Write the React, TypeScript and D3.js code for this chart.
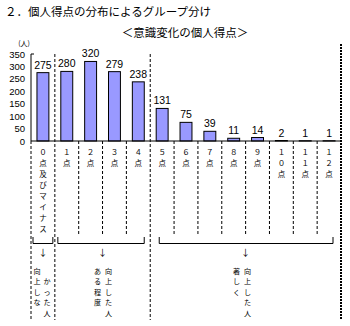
import React from 'react'
import * as d3 from 'd3'

const categories = [
  '０点及びマイナス', '１点', '２点', '３点', '４点', '５点', '６点',
  '７点', '８点', '９点', '１０点', '１１点', '１２点',
]
const counts = [275, 280, 320, 279, 238, 131, 75, 39, 11, 14, 2, 1, 1]
const yTicks = [0, 50, 100, 150, 200, 250, 300, 350]

const groupFirst = [0, 1, 5]
const groupLast = [0, 4, 12]
const groupTexts = [
  ['向上しな', 'かった人'],
  ['ある程度', '向上した人'],
  ['著しく', '向上した人'],
]

const title = '２．個人得点の分布によるグループ分け'
const subtitle = '＜意識変化の個人得点＞'
const unit = '(人)'

// layout tweaks
const bracketInset = [[2, 2], [3, 6], [9, 8]]
const colDx = [[-6, 4], [-5, 6], [-9, 2]]
const colDy = [[0, 1], [0, 0], [0, 0]]

const JP = '"Noto Sans CJK JP", "Noto Sans", sans-serif'
const NUM = '"Liberation Sans", Arial, sans-serif'

// stacked (vertical) text, one glyph per text element
function Stack({ x, y, text, step, size }: { x: number; y: number; text: string; step: number; size: number }) {
  return (
    <g>
      {Array.from(text).map((ch, j) => (
        <text key={j} x={x} y={y + j * step} fontFamily={JP} fontSize={size}
          textAnchor="middle" dominantBaseline="central">{ch}</text>
      ))}
    </g>
  )
}

export default function App() {
  const W = 350
  const H = 326
  const left = 31
  const right = 341
  const top = 54
  const base = 141
  const bottom = 320
  const labelEnd = 236

  const x = d3.scaleBand<number>()
    .domain(d3.range(categories.length))
    .range([left, right])
    .paddingInner(0.5)
    .paddingOuter(0.25)
  const step = x.step()
  const bw = x.bandwidth()
  const cx = (i: number) => (x(i) as number) + bw / 2
  const edge = (k: number) => left + k * step

  const y = d3.scaleLinear().domain([0, 350]).range([base, top])

  const sepIdx = groupFirst.slice(1)
  const innerEdges = d3.range(1, categories.length).filter(k => !sepIdx.includes(k))

  return (
    <svg width={W} height={H} style={{ position: 'absolute', left: 0, top: 0, background: '#fff' }}>
      <text x={5} y={16} fontFamily={JP} fontSize={11.5} fill="#000">{title}</text>
      <text x={185} y={37} fontFamily={JP} fontSize={11.5} textAnchor="middle" fill="#000">{subtitle}</text>

      <text x={24} y={46} fontFamily={JP} fontSize={7} textAnchor="middle">{unit}</text>
      {yTicks.map(t => (
        <text key={t} x={25} y={y(t) + 3.5} fontFamily={NUM} fontSize={9.5} textAnchor="end">{t}</text>
      ))}

      {counts.map((v, i) => (
        <g key={i}>
          <rect x={x(i)} y={y(v)} width={bw} height={base - y(v)}
            fill="#9999ff" stroke="#000" strokeWidth={1} />
          <text x={cx(i)} y={y(v) - 4} fontFamily={NUM} fontSize={10.5} textAnchor="middle">{v}</text>
        </g>
      ))}

      {/* axes */}
      <line x1={left} x2={left} y1={top} y2={base} stroke="#000" />
      <line x1={left} x2={left + 3} y1={top} y2={top} stroke="#000" />
      <line x1={left} x2={right} y1={base} y2={base} stroke="#000" />

      {/* dashed separators */}
      {innerEdges.map(k => (
        <line key={k} x1={edge(k)} x2={edge(k)} y1={base} y2={labelEnd}
          stroke="#000" strokeDasharray="3,2" />
      ))}
      {sepIdx.map(k => (
        <line key={k} x1={edge(k)} x2={edge(k)} y1={top} y2={bottom}
          stroke="#000" strokeDasharray="3,2" />
      ))}
      <line x1={left} x2={left} y1={base} y2={bottom} stroke="#000" strokeDasharray="3,2" />
      <line x1={right} x2={right} y1={44} y2={bottom} stroke="#000" strokeWidth={2} strokeDasharray="2,1" />

      {/* category labels, vertical */}
      {categories.map((c, i) => (
        <Stack key={i} x={cx(i)} y={151.5} text={c} step={11} size={7.5} />
      ))}

      {/* groups */}
      {groupFirst.map((g0, gi) => {
        const x0 = edge(g0) + bracketInset[gi][0]
        const x1 = edge(groupLast[gi] + 1) - bracketInset[gi][1]
        const mid = (edge(g0) + edge(groupLast[gi] + 1)) / 2
        return (
          <g key={gi}>
            <path d={`M${x0},237 V243.5 H${x1} V237`} fill="none" stroke="#000" />
            <text x={mid} y={256} fontFamily={JP} fontSize={9} textAnchor="middle">↓</text>
            {groupTexts[gi].map((col, ci) => (
              <Stack key={ci} x={mid + colDx[gi][ci]} y={271 + colDy[gi][ci] * 10.4}
                text={col} step={10.4} size={7.1} />
            ))}
          </g>
        )
      })}
    </svg>
  )
}
